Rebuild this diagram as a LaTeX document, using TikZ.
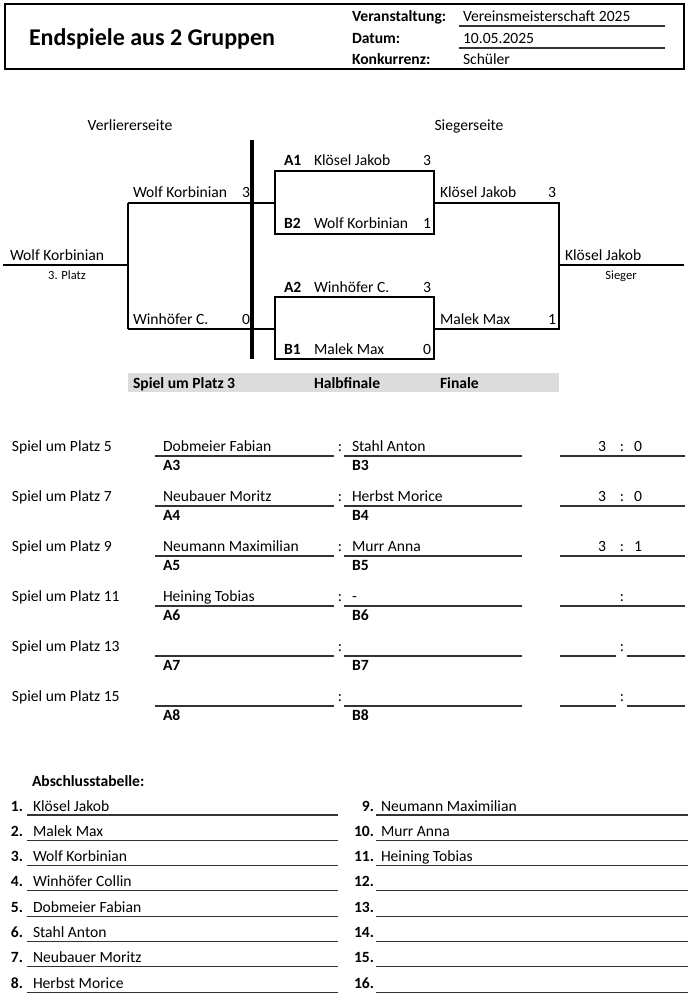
\documentclass[tikz,border=0pt]{standalone}
\usepackage{fontspec}
\setmainfont{Carlito}
\newcommand\normsz{\fontsize{15.6}{18}\selectfont}
\newcommand\smsz{\fontsize{12.5}{14}\selectfont}
\newcommand\titlesz{\fontsize{24}{27}\selectfont}
\definecolor{bargrey}{HTML}{DCDCDC}
\begin{document}
\begin{tikzpicture}[x=1pt,y=-1pt,
  every node/.style={inner sep=0pt, outer sep=0pt},
  tx/.style={anchor=base west, font=\normsz},
  txr/.style={anchor=base east, font=\normsz},
  txc/.style={anchor=base, font=\normsz},
  bx/.style={anchor=base west, font=\normsz\bfseries},
  bxr/.style={anchor=base east, font=\normsz\bfseries},
  sm/.style={anchor=base, font=\smsz},
  brk/.style={line width=1.8pt},
  uln/.style={line width=1.1pt, black!80},
  frame/.style={line width=2.5pt}]
\useasboundingbox (0,0) rectangle (690,1000);

% ---------- header ----------
\draw[frame] (5,4) rectangle (684,69);
\node[anchor=base west, font=\titlesz\bfseries] (title) at (29,46) {Endspiele aus 2 Gruppen};
\node[bx] (hv) at (352,22) {Veranstaltung:};
\node[bx] (hd) at (352,44) {Datum:};
\node[bx] (hk) at (352,65) {Konkurrenz:};
\node[tx] (vv) at (463,22) {Vereinsmeisterschaft 2025};
\node[tx] (vd) at (463,44) {10.05.2025};
\node[tx] (vk) at (463,65) {Schüler};
\draw[uln] (459,26) coordinate (u1a) -- (665,26) coordinate (u1b);
\draw[uln] (459,48) coordinate (u2a) -- (665,48) coordinate (u2b);

% ---------- bracket ----------
\node[txc] (ls) at (130,131) {Verliererseite};
\node[txc] (ws) at (469,131) {Siegerseite};

\fill[bargrey] (128,373) rectangle (559,392);
\node[bx] (bar1) at (133,388) {Spiel um Platz 3};
\node[bx] (bar2) at (314,388) {Halbfinale};
\node[bx] (bar3) at (440,388) {Finale};

\coordinate (p3a) at (3,265);
\coordinate (p3b) at (128,265);
\coordinate (lt) at (128,203);
\coordinate (lb) at (128,329);
\coordinate (ltr) at (275,203);
\coordinate (lbr) at (275,329);
\draw[brk] (p3a) -- (p3b);
\draw[brk] (lt) -- (lb);
\draw[brk] (lt) -- (ltr);
\draw[brk] (lb) -- (lbr);
\draw[brk] (275,171) coordinate (s1tl) rectangle (434,234) coordinate (s1br);
\draw[brk] (275,297) coordinate (s2tl) rectangle (434,359) coordinate (s2br);
\coordinate (rt) at (434,203);
\coordinate (rb) at (434,329);
\coordinate (rtr) at (559,203);
\coordinate (rbr) at (559,329);
\coordinate (fin) at (684,265);
\draw[brk] (rt) -- (rtr) -- (rbr) -- (rb);
\draw[brk] (559,265) -- (fin);
\draw[line width=3.5pt] (252,140) coordinate (vt) -- (252,359) coordinate (vb);

\node[tx] (n3) at (10,260) {Wolf Korbinian};
\node[sm] (n3s) at (67,279) {3. Platz};
\node[tx] (nw1) at (133,198) {Wolf Korbinian};
\node[txr] (nw1s) at (250,198) {3};
\node[tx] (nw2) at (133,324) {Winhöfer C.};
\node[txr] (nw2s) at (250,324) {0};

\node[bx] (la1) at (284,166) {A1};
\node[tx] (na1) at (314,166) {Klösel Jakob};
\node[txr] (sa1) at (431,166) {3};
\node[bx] (lb2) at (284,229) {B2};
\node[tx] (nb2) at (314,229) {Wolf Korbinian};
\node[txr] (sb2) at (431,229) {1};
\node[bx] (la2) at (284,292) {A2};
\node[tx] (na2) at (314,292) {Winhöfer C.};
\node[txr] (sa2) at (431,292) {3};
\node[bx] (lb1) at (284,354) {B1};
\node[tx] (nb1) at (314,354) {Malek Max};
\node[txr] (sb1) at (431,354) {0};

\node[tx] (nf1) at (440,198) {Klösel Jakob};
\node[txr] (sf1) at (556,198) {3};
\node[tx] (nf2) at (440,324) {Malek Max};
\node[txr] (sf2) at (556,324) {1};
\node[tx] (win) at (565,260) {Klösel Jakob};
\node[sm] (wins) at (621,279) {Sieger};

% ---------- placement games ----------
\foreach \i/\pl/\na/\nb/\sa/\sb/\sp in {
  0/5/Dobmeier Fabian/Stahl Anton/3/0/0,
  1/7/Neubauer Moritz/Herbst Morice/3/0/0,
  2/9/Neumann Maximilian/Murr Anna/3/1/0,
  3/11/Heining Tobias/-///0,
  4/13////{}/1,
  5/15////{}/1}{
  \pgfmathsetmacro\yl{456+50*\i}
  \pgfmathsetmacro\yb{\yl-5}
  \pgfmathsetmacro\yc{\yl+14}
  \pgfmathtruncatemacro\la{3+\i}
  \node[tx] (sp\i) at (12,\yb) {Spiel um Platz \pl};
  \node[tx] (na\i) at (163,\yb) {\na};
  \node[tx] (nb\i) at (352,\yb) {\nb};
  \node[txc] (co\i) at (340,\yb) {:};
  \draw[uln] (155,\yl) coordinate (aa\i) -- (334,\yl) coordinate (ab\i);
  \draw[uln] (344,\yl) coordinate (ba\i) -- (522,\yl) coordinate (bb\i);
  \node[bx] (lA\i) at (163,\yc) {A\la};
  \node[bx] (lB\i) at (352,\yc) {B\la};
  \node[txc] (sc\i) at (622,\yb) {:};
  \node[txc] (sa\i) at (602,\yb) {\sa};
  \node[txc] (sb\i) at (638,\yb) {\sb};
  \ifnum\sp=0
    \draw[uln] (560,\yl) coordinate (ka\i) -- (685,\yl) coordinate (kb\i);
  \else
    \draw[uln] (560,\yl) coordinate (ka\i) -- (616,\yl) coordinate (km\i);
    \draw[uln] (627,\yl) coordinate (kn\i) -- (685,\yl) coordinate (kb\i);
  \fi
}

% ---------- final table ----------
\node[bx] (abt) at (32,786) {Abschlusstabelle:};
\foreach \k/\na/\nb in {
  1/Klösel Jakob/Neumann Maximilian,
  2/Malek Max/Murr Anna,
  3/Wolf Korbinian/Heining Tobias,
  4/Winhöfer Collin/,
  5/Dobmeier Fabian/,
  6/Stahl Anton/,
  7/Neubauer Moritz/,
  8/Herbst Morice/}{
  \pgfmathsetmacro\yl{815+(\k-1)*25.3}
  \pgfmathsetmacro\yb{\yl-4}
  \pgfmathtruncatemacro\r{\k+8}
  \node[bxr] (tn\k) at (23,\yb) {\k.};
  \node[tx] (tl\k) at (33,\yb) {\na};
  \draw[uln] (27,\yl) coordinate (tla\k) -- (338,\yl) coordinate (tlb\k);
  \node[bxr] (tm\k) at (374,\yb) {\r.};
  \node[tx] (tr\k) at (381,\yb) {\nb};
  \draw[uln] (376,\yl) coordinate (tra\k) -- (688,\yl) coordinate (trb\k);
}
\end{tikzpicture}
\end{document}
